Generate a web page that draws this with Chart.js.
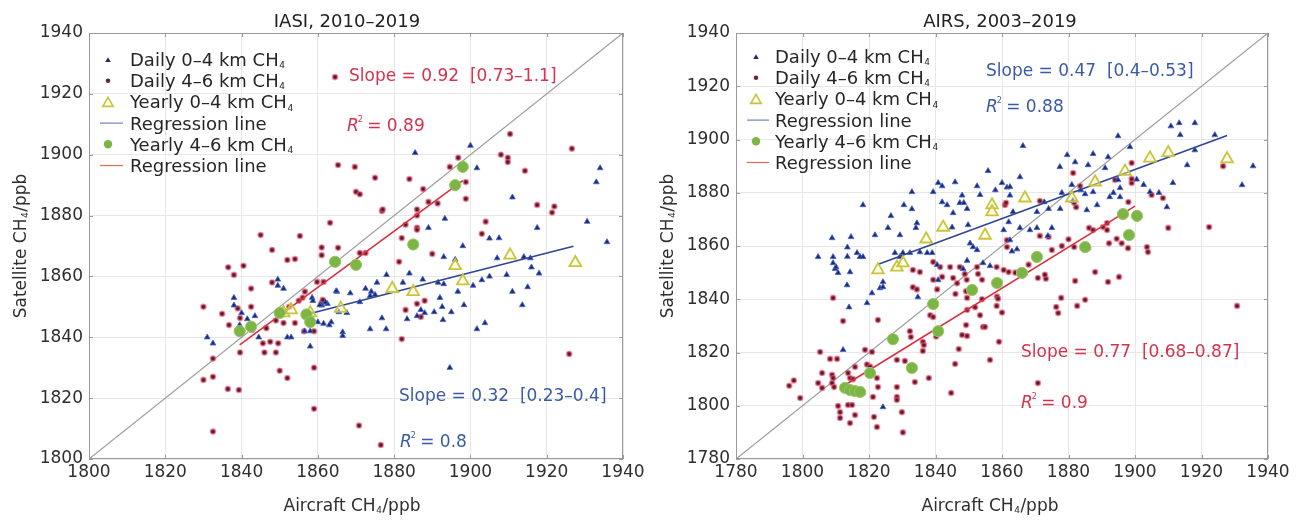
<!DOCTYPE html>
<html><head><meta charset="utf-8">
<script src="https://cdn.jsdelivr.net/npm/chart.js@4.4.1/dist/chart.umd.min.js"></script>
<style>
html,body{margin:0;padding:0;background:#fff;}
#wrap{position:relative;width:1303px;height:520px;overflow:hidden;background:#fff;}
canvas{position:absolute;top:0;}
</style></head><body>
<div id="wrap">
<canvas id="cL" width="650" height="520" style="left:0;width:650px;height:520px"></canvas>
<canvas id="cR" width="653" height="520" style="left:650px;width:653px;height:520px"></canvas>
</div>
<script>
// ---------------- DATA ----------------
const leftTicks = [1800,1820,1840,1860,1880,1900,1920,1940];
const rightTicks = [1780,1800,1820,1840,1860,1880,1900,1920,1940];

// IASI, 2010–2019
const iasiDaily04 = [[1831,1840],[1832.5,1838],[1838,1853],[1838,1850.5],[1840,1848],[1841.5,1846],[1839.5,1844],[1843.5,1847],
[1849.5,1859],[1849.5,1857],[1851,1856],[1852,1840],[1853,1840],[1858,1837],[1856.5,1842],[1858,1842],[1858.5,1853],[1858.7,1852],
[1861,1850.5],[1862.5,1851],[1860,1845],[1861.5,1844.5],[1863.5,1845],[1865,1855],[1868.5,1854.5],[1865.5,1848.3],[1866.5,1841.7],
[1866.5,1840.5],[1872.5,1856],[1874,1855],[1875,1854],[1875.5,1858],[1878,1860.5],[1876.8,1846.3],[1871,1851.6],[1873.7,1853.6],
[1873.7,1842.7],[1877.9,1842.7],[1867.6,1848],[1858,1847],[1884,1861],[1887.5,1859],[1891.5,1858],[1893,1857.5],[1896.7,1855],
[1900.7,1857],[1903,1858.8],[1905,1860],[1907,1866],[1909.5,1860.5],[1911,1855],[1913.6,1850.6],[1915,1856.5],[1916,1863],
[1918,1861],[1914,1866.4],[1915.7,1866],[1898.3,1850.6],[1895,1848.3],[1892.6,1850],[1892.8,1845.7],[1890.5,1848.3],[1888,1848],
[1887,1849],[1886,1847],[1883.4,1846],[1903.8,1844.7],[1901.7,1842.7],[1893,1866.4],[1896,1865.5],[1889,1876],[1893.3,1879],
[1898,1870],[1905,1872.5],[1907.5,1872.6],[1911,1886],[1917.5,1876],[1930.6,1878],[1935.8,1871.3],[1934,1895.6],[1933,1891],
[1885.5,1900.6],[1900,1903],[1901.7,1895.6],[1864.8,1855.2],[1892,1853],[1882.3,1858],[1894.6,1830],[1863,1844],[1844.5,1840],
[1860.5,1850.6],[1862,1851.5]];
const iasiDaily46 = [[1830,1850],[1836.5,1863],[1840.5,1863.5],[1838,1860.5],[1842.5,1856],[1848,1868.7],[1848,1858],[1852,1865.4],
[1854,1865.7],[1861,1867],[1861,1869.5],[1865.3,1869.4],[1839,1849.5],[1842.5,1850],[1836.7,1844],[1839.6,1835],[1830,1826],
[1832.5,1827],[1832.5,1833],[1836.4,1823],[1839.3,1822.7],[1832.5,1809],[1846,1835],[1849,1835],[1850,1829],[1852,1826.6],
[1859,1830],[1859,1816.5],[1845.6,1838],[1847.5,1838.5],[1849.6,1838],[1839.6,1846.3],[1851,1844.7],[1854,1844.7],[1859,1842],
[1856.4,1842],[1856,1853],[1845,1873.6],[1855.3,1873.3],[1834.9,1847.7],[1842.7,1842.4],[1859.8,1858.2],[1861.5,1858.2],
[1871,1867.7],[1872.5,1867.7],[1863.2,1877.6],[1865.3,1896.6],[1869.7,1896],[1875,1892.4],[1884,1892],[1896.8,1899],[1894.6,1896],
[1910.4,1906.8],[1908,1900],[1909.8,1899],[1909.8,1897.6],[1914.3,1894.7],[1926.6,1902],[1870,1887.8],[1871,1887],[1876.8,1881.5],
[1887.6,1888.7],[1889,1884.5],[1886,1882],[1886,1880],[1883,1877],[1886,1876],[1886,1875.3],[1898.8,1891],[1898.8,1885.5],
[1904,1878],[1917.5,1883.5],[1922,1883],[1921.4,1881],[1877,1882],[1891.4,1884],[1882,1872.6],[1890,1867.4],[1881.3,1864.8],
[1882,1839.4],[1888,1852],[1870.8,1811],[1876.5,1804.6],[1925.9,1834.5],[1887,1846.7],[1886,1851],[1883,1849],[1864.5,1925.5],
[1903,1874],[1846.5,1843],[1849,1845.5],[1852.5,1850],[1855,1852],[1856.6,1855],[1861,1851.3],[1861.3,1852.3]];
const iasiYearly04 = [[1851,1848],[1853,1849],[1858,1848],[1866,1849.5],[1879.5,1856],[1885,1855],[1896,1863.5],[1898,1858.5],
[1910.4,1867],[1927.5,1864.5]];
const iasiYearly46 = [[1839.5,1842],[1842.5,1843.5],[1850,1848],[1857,1847.5],[1858,1845],[1864.5,1864.8],[1870,1863.8],
[1885,1870.5],[1896,1890],[1898,1896]];
const iasiRegBlue = [[1857,1847.5],[1927,1869.9]];
const iasiRegRed = [[1839.5,1837.5],[1898,1891.5]];
const iasiOneToOne = [[1800,1800],[1940,1940]];

// AIRS, 2003–2019
const airsDaily04 = [[1804.7,1855.9],[1809.2,1855.9],[1809.2,1853.6],[1809.8,1851.4],[1814.3,1850.2],[1814,1837],[1813.4,1845.3],
[1819.4,1838.6],[1820.9,1842.3],[1823.3,1844.2],[1824.2,1844.6],[1824.2,1846.5],[1812.2,1821],[1824.2,1799.5],[1834.7,1840.8],
[1840.5,1852.9],[1840.8,1847.2],[1808.9,1863],[1810.1,1852.1],[1810.7,1849.9],[1813.5,1859.5],[1813.5,1856],[1814.6,1863.4],
[1816.4,1857.4],[1817.3,1855.9],[1818.2,1855.9],[1818.2,1875.4],[1821.8,1864.1],[1825.7,1866.8],[1826.6,1871.3],[1830.5,1875.4],
[1832.9,1873.9],[1829.3,1864.1],[1827.8,1857.4],[1829.3,1855.9],[1830.2,1857.4],[1832.3,1857.4],[1835.3,1857.7],[1837.5,1857.4],
[1839,1857.4],[1834.1,1866.8],[1834.4,1868.6],[1832.9,1880.3],[1839.3,1880.3],[1840.8,1883.7],[1842,1882.5],[1845.9,1884],
[1852.5,1882.5],[1855.8,1888.2],[1842,1876.5],[1843.5,1875.4],[1847.3,1876.2],[1848.5,1876.2],[1848,1879],[1845.3,1872.4],
[1849.5,1874],[1853.4,1879.2],[1858,1881],[1861.5,1882],[1849.8,1867.9],[1845,1867],[1850.4,1861],[1851.3,1859.6],[1852.5,1858.5],
[1849.5,1854.5],[1848.3,1851.4],[1854.3,1853.6],[1856.4,1852.5],[1866.3,1897.6],[1879.6,1894.2],[1882,1891.5],[1887.4,1894.6],
[1885.9,1890.4],[1891.9,1893.4],[1891,1889.3],[1910.8,1905],[1913.3,1906.2],[1918,1906.2],[1913.6,1901.7],[1924,1901.7],
[1894.9,1901.3],[1898.5,1897.2],[1915.7,1890.4],[1918,1896],[1935.5,1890],[1932.2,1882.9],[1911.4,1883.7],[1860,1883.7],
[1862.4,1882.2],[1865.4,1885.9],[1862.4,1879],[1870.5,1866.8],[1868.4,1866],[1865.4,1866.8],[1860.5,1866],[1862,1869],
[1873.8,1863.8],[1875,1866.8],[1863,1858],[1864.5,1858.8],[1862.4,1862.2],[1870.5,1872.8],[1874,1874],[1877.5,1874],
[1881.3,1877],[1885.5,1873.5],[1888.6,1875.4],[1885,1879.5],[1887.4,1880.3],[1892.4,1878.4],[1893.5,1880],[1894.9,1884.8],
[1895.5,1881.8],[1895.5,1878.4],[1900.5,1885],[1902.6,1883],[1904.5,1880.3],[1907.2,1880],[1909.6,1874.6],[1863.3,1872.8],
[1872.7,1876.5],[1878,1880],[1881,1883],[1883.7,1881],[1877.4,1889.7]];
const airsDaily46 = [[1796,1807.5],[1797.4,1809.5],[1799.3,1802.9],[1805.3,1820.2],[1805.9,1812.3],[1804.7,1808.5],[1805.9,1806.7],
[1808.3,1817.6],[1810.4,1817.6],[1808.9,1811.6],[1809.2,1810.4],[1808.9,1808.5],[1809.5,1807],[1809.2,1840.5],[1812.2,1831.8],
[1810.7,1799.9],[1811.3,1797.6],[1811.3,1795.4],[1813.7,1800.3],[1814.9,1800.3],[1814.3,1793.5],[1815.8,1796.5],[1813.7,1812.3],
[1814.3,1810.4],[1815.8,1814.6],[1815.2,1810],[1817.3,1804.8],[1818.2,1804.8],[1818.8,1821],[1820.9,1820.2],[1819.4,1815.5],
[1820.3,1814.7],[1821.2,1803.3],[1821.5,1795.8],[1822.4,1792],[1822.4,1810.4],[1822.7,1807],[1822.7,1832.2],[1828.4,1807],
[1828.4,1803.3],[1828.4,1802.2],[1828.4,1817.2],[1830.8,1816.8],[1829.9,1797.6],[1830.2,1790],[1832.3,1828],[1832.6,1825.8],
[1833.8,1808.9],[1836.2,1824],[1836.5,1822.8],[1836.2,1820.6],[1838,1810.4],[1838.4,1834],[1839.3,1833.3],[1840.2,1826],
[1844.7,1804.8],[1845.9,1815.7],[1847,1821.3],[1848,1826.6],[1849.5,1826.2],[1849.2,1830.3],[1849.5,1836],[1851.9,1837],
[1849.5,1840.5],[1849.2,1843],[1833.2,1851],[1835.3,1850.2],[1839.3,1854],[1841.4,1852.1],[1842,1848.4],[1844.4,1852.1],
[1845.3,1848],[1846.5,1846],[1847.3,1852.1],[1848.8,1849.5],[1849.4,1847.3],[1852.5,1852.1],[1852.8,1849.5],[1854,1847.3],
[1833.2,1844.5],[1834.4,1843.7],[1839.3,1847.3],[1840.5,1843.7],[1846,1842],[1854,1840],[1858.5,1841],[1858.4,1852.1],
[1860.5,1851],[1862,1850.2],[1861.5,1862.2],[1861.5,1859.6],[1860.9,1875.4],[1858.4,1837.5],[1860,1835],[1881.4,1887.4],
[1899,1891.2],[1899,1883.7],[1899,1885.2],[1905,1879.2],[1908.4,1878],[1894,1884.8],[1883.5,1882.5],[1861.2,1876.2],
[1871.4,1876.9],[1881.7,1876.2],[1882.3,1874.6],[1898,1876.5],[1926.5,1890],[1910,1866.8],[1922.3,1867.1],[1886.2,1866.8],
[1887.4,1866],[1890.4,1867.1],[1891.6,1866],[1891.6,1868.6],[1892.2,1861],[1894.5,1862.7],[1896,1861],[1897.9,1859.2],
[1903.6,1859.6],[1903.9,1857.7],[1871.4,1863.8],[1874,1863.4],[1881.7,1859.6],[1885.9,1859.2],[1888,1850.2],[1891.9,1846.5],
[1895.2,1848.4],[1882,1846.9],[1870.8,1848],[1873.2,1847.7],[1872.9,1849.2],[1877.8,1840.5],[1876.3,1837.1],[1876.9,1834.8],
[1882.6,1837.5],[1885,1839.8],[1930.7,1837.5],[1859.1,1824],[1856.4,1817.2],[1870.8,1808.5],[1853.4,1834],[1854.3,1829.6],
[1854.9,1829.6],[1858.8,1840.2],[1864,1850],[1868,1853],[1875,1858.5],[1878,1860],[1880,1862.5]];
const airsYearly04 = [[1822.7,1851],[1828.4,1852],[1830.2,1853.6],[1837.2,1862.6],[1842.3,1867],[1854.9,1864],[1857,1875.4],
[1857,1872.8],[1866.9,1878],[1881,1878],[1888,1884],[1897,1888],[1904.5,1893],[1910,1895],[1927.7,1892.7]];
const airsYearly46 = [[1812.8,1806.7],[1814.3,1805.9],[1815.8,1805.5],[1817.3,1805.2],[1820.3,1812.3],[1827.2,1825],
[1832.9,1814.2],[1839.3,1838.2],[1840.8,1828],[1851,1843.5],[1858.5,1846.1],[1866,1849.9],[1870.5,1855.9],[1885,1859.6],
[1896.4,1872],[1898.2,1864.1],[1900.6,1871.3]];
const airsRegBlue = [[1822.4,1853],[1927.7,1901.5]];
const airsRegRed = [[1812.8,1807.8],[1900,1875]];
const airsOneToOne = [[1780,1780],[1940,1940]];

// text pieces: [text, isSubscript]
const legendLabels = [
  [['Daily 0\u20134 km CH',0],['4',1]],
  [['Daily 4\u20136 km CH',0],['4',1]],
  [['Yearly 0\u20134 km CH',0],['4',1]],
  [['Regression line',0]],
  [['Yearly 4\u20136 km CH',0],['4',1]],
  [['Regression line',0]]
];
const xTitle = [['Aircraft CH',0],['4',1],['/ppb',0]];
const yTitle = [['Satellite CH',0],['4',1],['/ppb',0]];

// ---------------- STYLE ----------------
const FONT = "'DejaVu Sans', sans-serif";
const C = {
  tri:'#1f2b68', triB:'rgba(70,100,210,0.85)',
  dot:'#4e1f2c', dotB:'rgba(235,75,105,0.6)',
  yTri:'#c9c43c', yTriBg:'rgba(250,250,205,0.45)',
  green:'#7cb545', greenB:'#98c862',
  blue:'#2f4597', red:'#d8303f', diag:'#9c9c9c',
  grid:'#e7e7e7', box:'#9a9a9a', text:'#2e2e2e',
  annRed:'#d4324c', annBlue:'#3b5aa6'
};
const pts = a => a.map(p => ({x:p[0], y:p[1]}));

function triPath(ctx,x,y,r){
  ctx.beginPath();
  ctx.moveTo(x, y - r);
  ctx.lineTo(x + 0.866*r, y + 0.5*r);
  ctx.lineTo(x - 0.866*r, y + 0.5*r);
  ctx.closePath();
}
// draw text made of pieces with small subscripts; baseline alphabetic
function rich(ctx, parts, x, y, size, align){
  const big = size + 'px ' + FONT, small = Math.round(size*0.5) + 'px ' + FONT;
  let w = 0;
  parts.forEach(p => { ctx.font = p[1] ? small : big; w += ctx.measureText(p[0]).width + (p[1] ? 1 : 0); });
  let cx = align === 'center' ? x - w/2 : x;
  const oldAlign = ctx.textAlign; ctx.textAlign = 'left';
  parts.forEach(p => {
    ctx.font = p[1] ? small : big;
    ctx.fillText(p[0], cx + (p[1] ? 0.5 : 0), y + (p[1] ? size*0.12 : 0));
    cx += ctx.measureText(p[0]).width + (p[1] ? 1 : 0);
  });
  ctx.textAlign = oldAlign;
}

function makeChart(id, o){
  const overlay = {
    id:'ov',
    beforeDatasetsDraw(chart){
      const ctx = chart.ctx, a = chart.chartArea, xs = chart.scales.x, ys = chart.scales.y;
      ctx.save();
      ctx.strokeStyle = C.box; ctx.lineWidth = 1;
      ctx.beginPath();
      xs.ticks.forEach(t => {
        const px = Math.round(xs.getPixelForValue(t.value)) + 0.5;
        ctx.moveTo(px, a.bottom); ctx.lineTo(px, a.bottom - 4);
        ctx.moveTo(px, a.top); ctx.lineTo(px, a.top + 4);
      });
      ys.ticks.forEach(t => {
        const py = Math.round(ys.getPixelForValue(t.value)) + 0.5;
        ctx.moveTo(a.left, py); ctx.lineTo(a.left + 4, py);
        ctx.moveTo(a.right, py); ctx.lineTo(a.right - 4, py);
      });
      ctx.stroke();
      ctx.strokeRect(Math.round(a.left)+0.5, Math.round(a.top)+0.5, Math.round(a.right-a.left)-1, Math.round(a.bottom-a.top)-1);
      ctx.restore();
    },
    afterDraw(chart){
      const ctx = chart.ctx, a = chart.chartArea;
      ctx.save();
      // title
      ctx.fillStyle = '#222'; ctx.font = '18px ' + FONT; ctx.textAlign = 'center'; ctx.textBaseline = 'alphabetic';
      ctx.fillText(o.title, o.titleX, 27);
      // axis titles
      ctx.fillStyle = C.text;
      rich(ctx, xTitle, o.xTitleX, 511, 17, 'center');
      ctx.save();
      ctx.translate(o.yTitleX, (a.top + a.bottom)/2);
      ctx.rotate(-Math.PI/2);
      rich(ctx, yTitle, 0, 6, 17, 'center');
      ctx.restore();
      // legend
      const lx = o.legX, tx = o.legTextX;
      ctx.textAlign = 'left'; ctx.textBaseline = 'alphabetic';
      for (let i = 0; i < 6; i++){
        const y = o.legY0 + i*21.2;
        if (i === 0){ triPath(ctx, lx, y+1, 3.2); ctx.fillStyle = C.tri; ctx.fill(); }
        else if (i === 1){ ctx.beginPath(); ctx.arc(lx, y, 2.3, 0, Math.PI*2); ctx.fillStyle = '#6a2635'; ctx.fill(); }
        else if (i === 2){ triPath(ctx, lx, y+1.5, 6); ctx.fillStyle = C.yTriBg; ctx.fill(); ctx.lineWidth = 1.6; ctx.strokeStyle = C.yTri; ctx.stroke(); }
        else if (i === 4){ ctx.beginPath(); ctx.arc(lx, y, 4.2, 0, Math.PI*2); ctx.fillStyle = C.green; ctx.fill(); }
        else { ctx.beginPath(); ctx.moveTo(o.legLine[0], y); ctx.lineTo(o.legLine[1], y);
               ctx.lineWidth = 1.2; ctx.strokeStyle = i === 3 ? '#7282bf' : '#e06a55'; ctx.stroke(); }
        ctx.fillStyle = '#262626';
        rich(ctx, legendLabels[i], tx, y + 6.5, 18, 'left');
      }
      // annotations
      o.ann.forEach(an => {
        ctx.fillStyle = an.color; ctx.textBaseline = 'middle'; ctx.textAlign = 'left';
        if (an.r2){
          ctx.font = 'italic 17px ' + FONT;
          ctx.fillText('R', an.x, an.y);
          let w = ctx.measureText('R').width;
          ctx.font = '8px ' + FONT;
          ctx.fillText('2', an.x + w - 1, an.y - 7);
          ctx.font = '17px ' + FONT;
          ctx.fillText(' = ' + an.text, an.x + w + 3, an.y);
        } else {
          ctx.font = '17px ' + FONT;
          ctx.fillText(an.text, an.x, an.y);
        }
      });
      ctx.restore();
    }
  };

  const tickFont = {family: FONT, size: 17};
  return new Chart(document.getElementById(id), {
    type: 'scatter',
    data: { datasets: [
      {label:'Yearly 4-6', data: pts(o.y46), pointStyle:'circle', pointRadius:5.6, backgroundColor:C.green, borderColor:C.greenB, borderWidth:1},
      {label:'Yearly 0-4', data: pts(o.y04), pointStyle:'triangle', pointRadius:6.8, backgroundColor:C.yTriBg, borderColor:C.yTri, borderWidth:1.8},
      {label:'Reg red', type:'line', data: pts(o.regRed), borderColor:C.red, borderWidth:1.6, pointRadius:0, showLine:true, fill:false},
      {label:'Reg blue', type:'line', data: pts(o.regBlue), borderColor:C.blue, borderWidth:1.6, pointRadius:0, showLine:true, fill:false},
      {label:'Daily 0-4', data: pts(o.d04), pointStyle:'triangle', pointRadius:3.3, backgroundColor:C.tri, borderColor:C.triB, borderWidth:1},
      {label:'Daily 4-6', data: pts(o.d46), pointStyle:'circle', pointRadius:2.4, backgroundColor:C.dot, borderColor:C.dotB, borderWidth:1.8},
      {label:'1:1', type:'line', data: pts(o.diag), borderColor:C.diag, borderWidth:1.2, pointRadius:0, showLine:true, fill:false}
    ]},
    options: {
      responsive:false, animation:false, events:[],
      layout:{padding:{left:0, top:33, right:o.padRight, bottom:0}},
      plugins:{legend:{display:false}, tooltip:{enabled:false}, title:{display:false}},
      scales:{
        x:{type:'linear', min:o.ticks[0], max:o.ticks[o.ticks.length-1],
           afterBuildTicks(s){ s.ticks = o.ticks.map(v => ({value:v})); },
           ticks:{font:tickFont, color:C.text, padding:3, maxRotation:0, autoSkip:false, callback:v => String(v)},
           grid:{color:C.grid, drawTicks:false}, border:{display:false},
           afterFit(s){ s.height = 61; }},
        y:{type:'linear', min:o.ticks[0], max:o.ticks[o.ticks.length-1],
           afterBuildTicks(s){ s.ticks = o.ticks.map(v => ({value:v})); },
           ticks:{font:tickFont, color:C.text, padding:6, autoSkip:false, callback:v => String(v)},
           grid:{color:C.grid, drawTicks:false}, border:{display:false},
           afterFit(s){ s.width = o.yAxisW; }}
      }
    },
    plugins:[overlay]
  });
}

makeChart('cL', {
  ticks: leftTicks, d04: iasiDaily04, d46: iasiDaily46, y04: iasiYearly04, y46: iasiYearly46,
  regBlue: iasiRegBlue, regRed: iasiRegRed, diag: iasiOneToOne,
  yAxisW: 89, padRight: 27, title: 'IASI, 2010\u20132019', titleX: 347, xTitleX: 352, yTitleX: 20,
  legX: 108, legTextX: 130, legY0: 59.5, legLine: [100, 123],
  ann: [
    {text:'Slope = 0.92  [0.73\u20131.1]', x:349, y:77, color:C.annRed},
    {text:'0.89', r2:true, x:347, y:127, color:C.annRed},
    {text:'Slope = 0.32  [0.23\u20130.4]', x:399, y:397, color:C.annBlue},
    {text:'0.8', r2:true, x:400, y:443, color:C.annBlue}
  ]
});
makeChart('cR', {
  ticks: rightTicks, d04: airsDaily04, d46: airsDaily46, y04: airsYearly04, y46: airsYearly46,
  regBlue: airsRegBlue, regRed: airsRegRed, diag: airsOneToOne,
  yAxisW: 86, padRight: 35, title: 'AIRS, 2003\u20132019', titleX: 350, xTitleX: 340, yTitleX: 17,
  legX: 106, legTextX: 125, legY0: 56.5, legLine: [97, 119],
  ann: [
    {text:'Slope = 0.47  [0.4\u20130.53]', x:336, y:72, color:C.annBlue},
    {text:'0.88', r2:true, x:336, y:108, color:C.annBlue},
    {text:'Slope = 0.77  [0.68\u20130.87]', x:371, y:353, color:C.annRed},
    {text:'0.9', r2:true, x:371, y:404, color:C.annRed}
  ]
});
</script>
</body></html>
